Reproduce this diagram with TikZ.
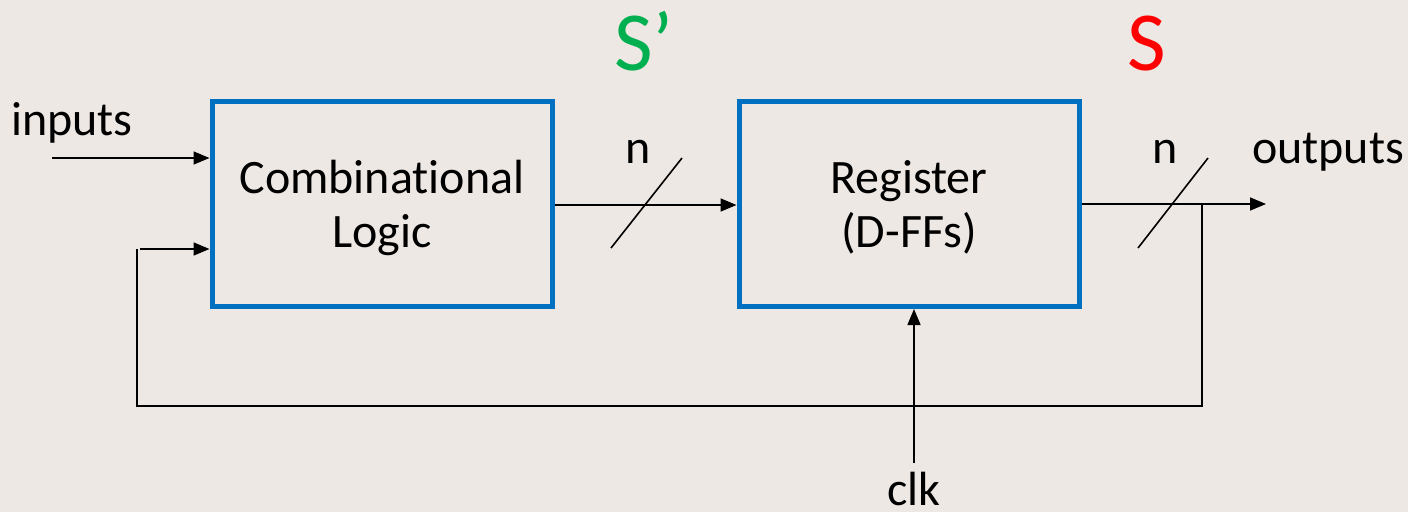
\documentclass[tikz,border=0pt]{standalone}
\usepackage{fontspec}
\setmainfont{Carlito}[Ligatures=NoCommon]
\usetikzlibrary{arrows.meta}
\definecolor{bg}{RGB}{238,232,228}
\definecolor{boxblue}{RGB}{0,112,192}
\definecolor{sgreen}{RGB}{0,176,80}
\definecolor{sred}{RGB}{255,0,0}
\begin{document}
\begin{tikzpicture}[x=1pt,y=-1pt,
  blk/.style={draw=boxblue,line width=5pt,minimum width=340pt,minimum height=205pt,inner sep=0pt},
  lbl/.style={font=\fontsize{48}{54}\selectfont,inner sep=0pt,anchor=base},
  big/.style={font=\fontsize{84}{96}\selectfont,inner sep=0pt,anchor=base},
  wire/.style={line width=1.6pt},
  arr/.style={wire,-{Triangle[length=16pt,width=13pt]}}]
\fill[bg] (0,0) rectangle (1408,512);
\useasboundingbox (0,0) rectangle (1408,512);
\node[blk] (cl) at (382,204) {};
\node[blk] (reg) at (909,204) {};
\node[lbl] (clA) at (382,193) {Combinational};
\node[lbl] (clB) at (382,247) {Logic};
\node[lbl] (regA) at (909,193) {Register};
\node[lbl] (regB) at (909,247) {(D-FFs)};
\node[lbl] (in) at (72,135) {inputs};
\node[lbl] (out) at (1328,163) {outputs};
\node[lbl] (clk) at (914,505) {clk};
\node[lbl] (n1) at (638,163) {n};
\node[lbl] (n2) at (1165,163) {n};
\node[big,text=sgreen] (sp) at (644,70) {S’};
\node[big,text=sred] (s) at (1147,70) {S};
\coordinate (inS) at (52,158);
\coordinate (fbA) at (140,249);
\coordinate (fbB) at (137,249);
\coordinate (fbC) at (137,406);
\coordinate (fbD) at (1202,406);
\coordinate (fbE) at (1202,204);
\coordinate (outE) at (1266,204);
\coordinate (clkS) at (914,463);
% input arrows
\draw[arr] (inS) -- (inS -| cl.west);
\draw[arr] (fbA) -- (fbA -| cl.west);
% S' bus
\draw[arr] (cl.east |- 0,205) -- (reg.west |- 0,205);
\draw[wire] (611,248) -- (682,158);
% output bus
\draw[arr] (reg.east |- outE) -- (outE);
\draw[wire] (1138,248) -- (1208,158);
% feedback
\draw[wire] (fbE) -- (fbD) -- (fbC) -- (fbB);
% clock
\draw[arr] (clkS) -- (clkS |- reg.south);
\end{tikzpicture}
\end{document}
